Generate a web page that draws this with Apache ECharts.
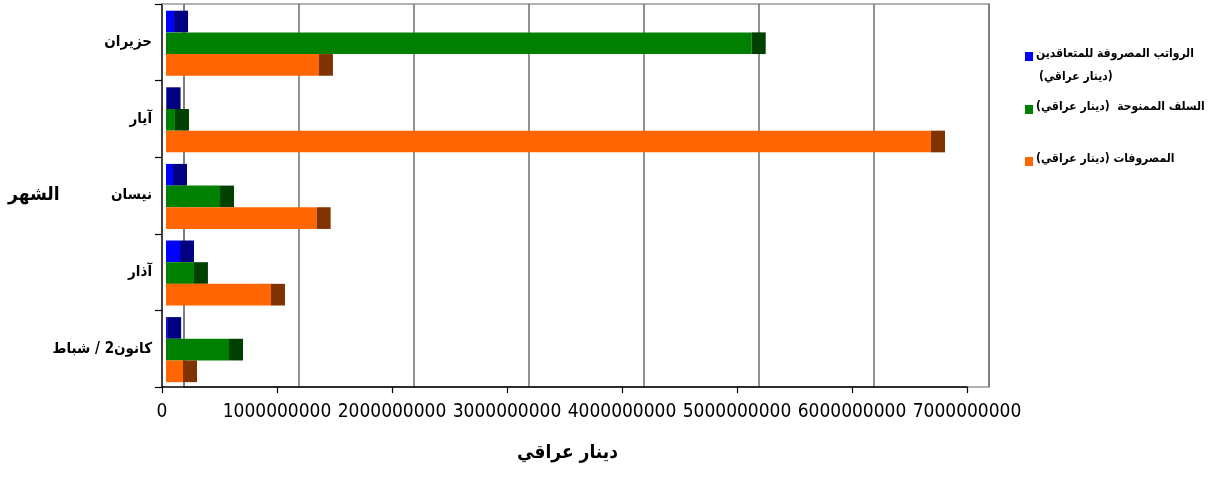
<!DOCTYPE html>
<html>
<head>
<meta charset="utf-8">
<script src="https://cdn.jsdelivr.net/npm/echarts@6/dist/echarts.min.js"></script>
<style>
html,body{margin:0;padding:0;background:#fff;}
#c{width:1212px;height:477px;direction:rtl;}
</style>
</head>
<body>
<div id="c"></div>
<script>
const categories = ['كانون2 / شباط', 'آذار', 'نيسان', 'آيار', 'حزيران'];
const salaries = [10000000, 122000000, 61000000, 5000000, 70000000];
const advances = [548000000, 243000000, 470000000, 78000000, 5093000000];
const expenses = [148000000, 913000000, 1310000000, 6652000000, 1330000000];
const seriesNames = ['الرواتب المصروفة للمتعاقدين', 'السلف الممنوحة  (دينار عراقي)', 'المصروفات (دينار عراقي)'];
const xMin = 0, xMax = 7000000000, xStep = 1000000000;
const xAxisTitle = 'دينار عراقي';
const yAxisTitle = 'الشهر';

const mainColors = ['#0000FF', '#008000', '#FF6600'];
const capColors = ['#000080', '#004000', '#803300'];
const arFont = "'DejaVu Sans Condensed','DejaVu Sans',sans-serif";
const numFont = "'Liberation Sans Narrow','DejaVu Sans Condensed',sans-serif";

const G = {top: 4, height: 383, width: 805};

function makeSeries(idx, vals) {
  return {
    type: 'custom',
    name: seriesNames[idx],
    xAxisIndex: 2, yAxisIndex: 2,
    itemStyle: {color: mainColors[idx]},
    data: vals.map((v, i) => [v, i]),
    encode: {x: 0, y: 1},
    renderItem: function (params, api) {
      const v = api.value(0), i = api.value(1);
      const s = api.coord([0, i]);
      const e = api.coord([v, i]);
      const band = api.size([0, 1])[1];
      const h = band * 0.283;
      const top = s[1] - band * 0.4125 + idx * h;
      return {
        type: 'group',
        children: [
          {type: 'rect', shape: {x: s[0], y: top, width: e[0] - s[0], height: h}, style: {fill: mainColors[idx]}},
          {type: 'rect', shape: {x: e[0], y: top, width: 14, height: h}, style: {fill: capColors[idx]}}
        ]
      };
    }
  };
}

const valueAxisBase = {type: 'value', min: xMin, max: xMax, interval: xStep};
const catAxisBase = {type: 'category', data: categories};

const option = {
  backgroundColor: '#ffffff',
  animation: false,
  grid: [
    {left: 162, top: G.top, width: G.width, height: G.height},
    {left: 184, top: G.top, width: G.width, height: G.height, show: true, borderColor: '#999999', borderWidth: 1.5},
    {left: 166, top: G.top, width: G.width, height: G.height}
  ],
  xAxis: [
    Object.assign({}, valueAxisBase, {
      gridIndex: 0,
      axisLine: {show: true, lineStyle: {color: '#000', width: 1.5}},
      axisTick: {show: true, length: 6, lineStyle: {color: '#000', width: 1.2}},
      axisLabel: {color: '#000', fontFamily: numFont, fontSize: 19, margin: 16,
        showMinLabel: true, showMaxLabel: true, hideOverlap: false,
        formatter: function (v) { return String(Math.round(v)); }},
      splitLine: {show: false}
    }),
    Object.assign({}, valueAxisBase, {
      gridIndex: 1,
      axisLine: {show: false}, axisTick: {show: false}, axisLabel: {show: false},
      splitLine: {show: true, lineStyle: {color: '#6e6e6e', width: 1.5}}
    }),
    Object.assign({}, valueAxisBase, {
      gridIndex: 2, show: false, splitLine: {show: false}
    })
  ],
  yAxis: [
    Object.assign({}, catAxisBase, {
      gridIndex: 0,
      axisLine: {show: true, lineStyle: {color: '#000', width: 1.5}},
      axisTick: {show: true, length: 7, lineStyle: {color: '#000', width: 1.2}},
      axisLabel: {color: '#000', fontFamily: arFont, fontWeight: 'bold', fontSize: 15, margin: 10},
      splitLine: {show: false}
    }),
    Object.assign({}, catAxisBase, {
      gridIndex: 1, show: false, splitLine: {show: false}
    }),
    Object.assign({}, catAxisBase, {
      gridIndex: 2, show: false, splitLine: {show: false}
    })
  ],
  series: [
    makeSeries(0, salaries),
    makeSeries(1, advances),
    makeSeries(2, expenses)
  ],
  graphic: [
    {type: 'line', shape: {x1: 162, y1: 4, x2: 184, y2: 4}, style: {stroke: '#999999', lineWidth: 1.5}, z: 10},
    {type: 'rect', shape: {x: 1025, y: 52, width: 8, height: 9}, style: {fill: mainColors[0]}},
    {type: 'text', left: 1036, top: 48, style: {text: seriesNames[0], font: "bold 12px " + arFont, fill: '#000'}},
    {type: 'text', left: 1039, top: 71, style: {text: '(دينار عراقي)', font: "bold 12px " + arFont, fill: '#000'}},
    {type: 'rect', shape: {x: 1025, y: 105, width: 8, height: 9}, style: {fill: mainColors[1]}},
    {type: 'text', left: 1036, top: 101, style: {text: seriesNames[1], font: "bold 12px " + arFont, fill: '#000'}},
    {type: 'rect', shape: {x: 1025, y: 157, width: 8, height: 9}, style: {fill: mainColors[2]}},
    {type: 'text', left: 1036, top: 153, style: {text: seriesNames[2], font: "bold 12px " + arFont, fill: '#000'}},
    {type: 'text', left: 8, top: 186, style: {text: yAxisTitle, font: "bold 19px " + arFont, fill: '#000'}},
    {type: 'text', left: 517, top: 444, style: {text: xAxisTitle, font: "bold 19px " + arFont, fill: '#000'}}
  ]
};

const chart = echarts.init(document.getElementById('c'), null, {renderer: 'canvas'});
chart.setOption(option);
</script>
</body>
</html>
